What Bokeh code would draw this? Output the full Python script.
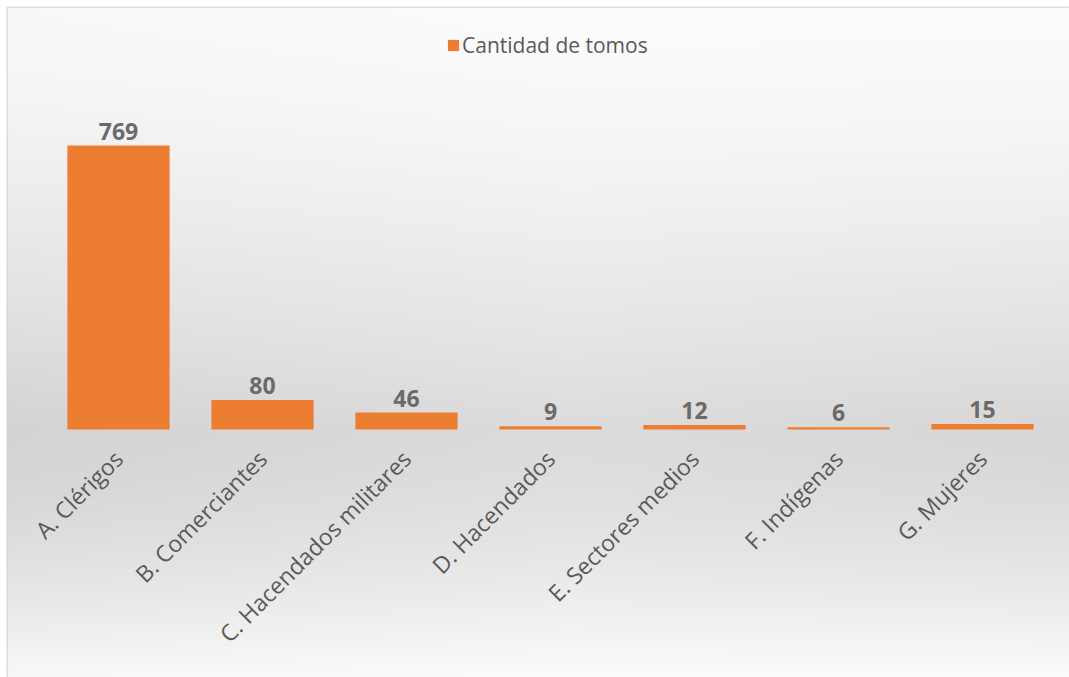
import math
import numpy as np
from bokeh.plotting import figure
from bokeh.models import Range1d, FixedTicker, ColumnDataSource, Legend, LegendItem
from bokeh.core.properties import value
from bokeh.embed import file_html
from bokeh.resources import INLINE

categories = ["A. Clérigos", "B. Comerciantes", "C. Hacendados militares",
              "D. Hacendados", "E. Sectores medios", "F. Indígenas", "G. Mujeres"]
tomos = [769, 80, 46, 9, 12, 6, 15]
series_name = "Cantidad de tomos"

W, H = 1069, 677
LB, TB = 7, 7
FW, FH = W - LB, H - TB
BAR = "#ED7D31"
TXT = "#595959"
FONT = "Open Sans"

xpos = [i + 1 for i in range(len(categories))]
x0 = 1 - 111 / 144.0
x1 = x0 + FW / 144.0
ypx = 0.3693
y1 = 422 / ypx
y0 = -(FH - 422) / ypx

p = figure(width=W, height=H, output_backend="svg", toolbar_location=None,
           x_range=Range1d(x0, x1), y_range=Range1d(y0, y1), y_axis_type=None,
           min_border=0, min_border_left=LB, min_border_right=0,
           min_border_top=TB, min_border_bottom=0)
p.grid.visible = False
p.outline_line_color = "#d6d6d6"
p.outline_line_width = 2
p.border_fill_color = "white"

# background gradient (style only)
sy = np.arange(FH)[:, None].astype(float)
sx = np.arange(FW)[None, :].astype(float)
bump = np.where(sy < 420, (sy / 420.0) ** 1.4,
                np.clip(1 - ((np.maximum(sy, 420) - 420) / 250.0) ** 1.6, 0, 1))
cx = (sx - 560) / FW
v = 252 - 32 * bump - 10 * np.abs(cx) * bump - 6 * (cx < 0) * np.abs(cx)
v = np.clip(v, 0, 255).astype(np.uint32)
v = v[::-1, :]
img = (np.uint32(255) << 24) | (v << 16) | (v << 8) | v
p.image_rgba(image=[img.astype(np.uint32)], x=x0, y=y0, dw=x1 - x0, dh=y1 - y0, level="image")

src = ColumnDataSource(dict(x=xpos, top=tomos, cat=categories,
                            lab=[str(t) for t in tomos]))
bars = p.vbar(x="x", top="top", bottom=0, width=0.71, source=src,
              fill_color=BAR, line_color=None)

p.text(x="x", y="top", text="lab", source=src, text_align="center",
       text_baseline="bottom", y_offset=-6, text_color="#6a6a6a",
       text_font=value(FONT), text_font_size="23px", text_font_style="bold")

xa = p.xaxis[0]
xa.fixed_location = 0
xa.ticker = FixedTicker(ticks=xpos)
xa.major_label_overrides = {x: c for x, c in zip(xpos, categories)}
xa.major_label_orientation = math.pi / 4
xa.axis_line_color = None
xa.major_tick_line_color = None
xa.minor_tick_line_color = None
xa.major_label_text_font = FONT
xa.major_label_text_font_size = "23px"
xa.major_label_text_color = TXT
xa.major_label_standoff = 19

legend = Legend(items=[LegendItem(label=series_name, renderers=[bars])],
                location=(439, 618), orientation="horizontal",
                background_fill_alpha=0, border_line_color=None,
                glyph_width=14, glyph_height=14, padding=2, margin=0,
                label_text_font=FONT, label_text_font_size="21px",
                label_text_color=TXT, label_standoff=2)
p.add_layout(legend)

open("out.html", "w").write(file_html(p, INLINE))
